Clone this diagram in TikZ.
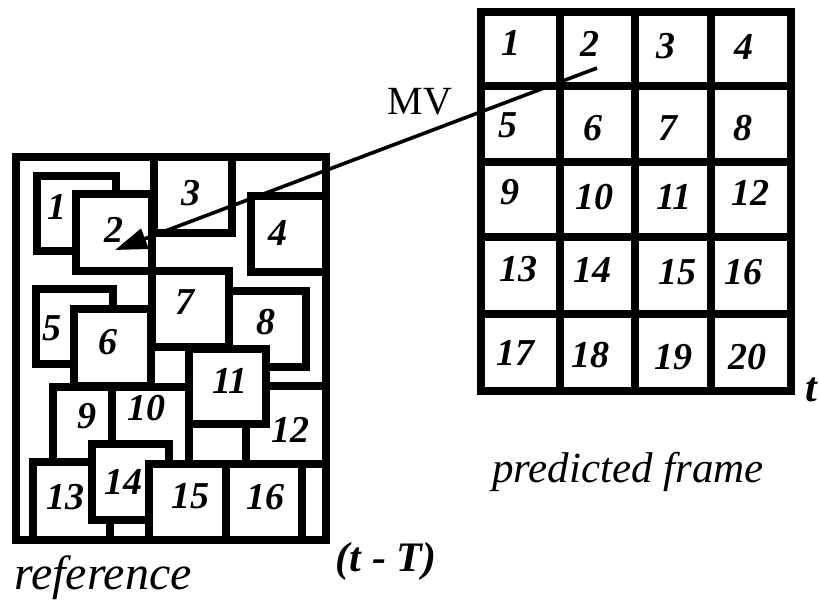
\documentclass[tikz,border=0pt]{standalone}
\usepackage{fontspec}
\setmainfont{Liberation Serif}
\usetikzlibrary{arrows.meta}
\begin{document}
\begin{tikzpicture}[x=1pt,y=-1pt,
  blk/.style={draw=black, fill=white, line width=7.5pt},
  gridline/.style={draw=black, line width=7.5pt},
  num/.style={font=\fontsize{38}{38}\selectfont\bfseries\itshape, inner sep=0pt},
  caption/.style={font=\fontsize{43}{43}\selectfont\itshape, inner sep=0pt},
  refcaption/.style={font=\fontsize{48}{48}\selectfont\itshape, inner sep=0pt},
  timelabel/.style={font=\fontsize{42}{42}\selectfont\bfseries\itshape, inner sep=0pt},
  mvlabel/.style={font=\fontsize{40}{40}\selectfont, inner sep=0pt},
  mvarrow/.style={draw=black, line width=3.6pt, -{Triangle[length=32pt,width=21pt]}}
]
\useasboundingbox (0,0) rectangle (819,606);

% ---------- reference frame (t - T): overlapping displaced blocks ----------
\path[blk] (16,157) rectangle (326,540);
\path[blk] (37,176) rectangle (116,251);   % block 1
\path[blk] (76,194) rectangle (152,271);   % block 2
\path[blk] (154,157) rectangle (232,233);  % block 3
\path[blk] (251,196) rectangle (326,272);  % block 4
\path[blk] (36,289) rectangle (113,364);   % block 5
\path[blk] (74,309) rectangle (151,386);   % block 6
\path[blk] (229,291) rectangle (306,367);  % block 8
\path[blk] (152,271) rectangle (229,347);  % block 7
\path[blk] (246,386) rectangle (326,464);  % block 12
\path[blk] (189,349) rectangle (266,424);  % block 11
\path[blk] (53,387) rectangle (130,462);   % block 9
\path[blk] (112,387) rectangle (189,464);  % block 10
\path[blk] (33,462) rectangle (110,540);   % block 13
\path[blk] (92,444) rectangle (169,520);   % block 14
\path[blk] (149,464) rectangle (226,540);  % block 15
\path[blk] (226,464) rectangle (302,540);  % block 16

\node[num] (r1)  at (57,207)  {1};
\node[num] (r2)  at (114,230) {2};
\node[num] (r3)  at (191,193) {3};
\node[num] (r4)  at (278,233) {4};
\node[num] (r5)  at (52,328)  {5};
\node[num] (r6)  at (108,342) {6};
\node[num] (r7)  at (185,302) {7};
\node[num] (r8)  at (266,322) {8};
\node[num] (r9)  at (87,416)  {9};
\node[num] (r10) at (146,408) {10};
\node[num] (r11) at (230,381) {11};
\node[num] (r12) at (290,430) {12};
\node[num] (r13) at (65,497)  {13};
\node[num] (r14) at (123,482) {14};
\node[num] (r15) at (190,496) {15};
\node[num] (r16) at (265,497) {16};

% ---------- predicted frame t: regular 4 x 5 block grid ----------
\path[blk] (481,12) rectangle (791,391);
\foreach \gx in {560,635,711} \draw[gridline] (\gx,12) -- (\gx,391);
\foreach \gy in {86,162,237,314} \draw[gridline] (481,\gy) -- (791,\gy);

\node[num] (p1)  at (511,43)  {1};
\node[num] (p2)  at (590,44)  {2};
\node[num] (p3)  at (666,46)  {3};
\node[num] (p4)  at (744,47)  {4};
\node[num] (p5)  at (508,125) {5};
\node[num] (p6)  at (593,128) {6};
\node[num] (p7)  at (668,128) {7};
\node[num] (p8)  at (743,128) {8};
\node[num] (p9)  at (510,192) {9};
\node[num] (p10) at (594,197) {10};
\node[num] (p11) at (674,197) {11};
\node[num] (p12) at (750,193) {12};
\node[num] (p13) at (518,269) {13};
\node[num] (p14) at (592,270) {14};
\node[num] (p15) at (677,272) {15};
\node[num] (p16) at (743,272) {16};
\node[num] (p17) at (515,353) {17};
\node[num] (p18) at (590,355) {18};
\node[num] (p19) at (673,357) {19};
\node[num] (p20) at (747,357) {20};

% ---------- motion vector ----------
\coordinate (mvstart) at (597,68);
\coordinate (mvend) at (115,250);
\draw[mvarrow] (mvstart) -- (mvend);
\node[mvlabel] (mv) at (420,102) {MV};

% ---------- captions ----------
\node[timelabel] (tnow) at (811,390) {t};
\node[caption] (predcap) at (628,472) {predicted frame};
\node[refcaption] (refcap) at (103,578) {reference};
\node[timelabel] (tprev) at (386,561) {(t - T)};
\end{tikzpicture}
\end{document}
